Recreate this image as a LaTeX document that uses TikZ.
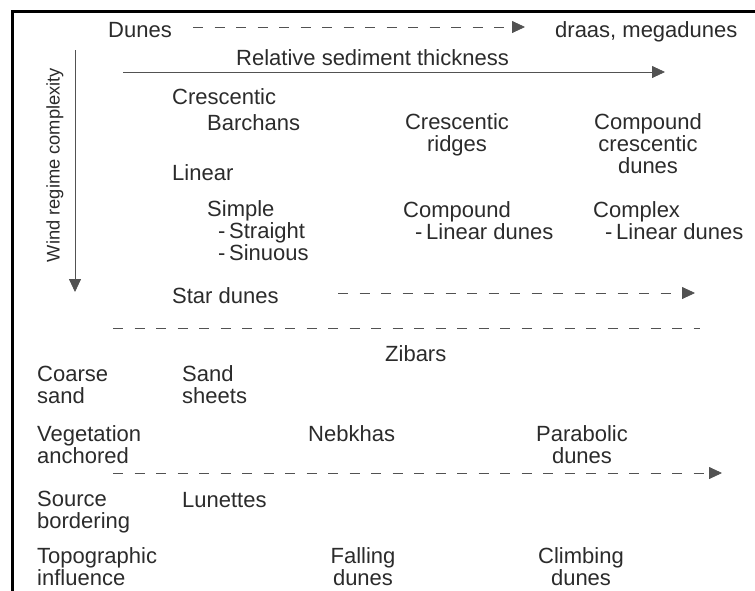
\documentclass[tikz,border=0pt]{standalone}
\usepackage{fontspec}
\setmainfont{Liberation Sans}
\usetikzlibrary{arrows.meta}
\usetikzlibrary{positioning}

\definecolor{inkgray}{gray}{0.17}
\definecolor{linegray}{gray}{0.32}

\tikzset{
  lbl/.style={font=\fontsize{22}{22}\selectfont, text=inkgray, inner sep=0pt, anchor=base west, align=left},
  clbl/.style={lbl, anchor=base, align=center},
  axisarrow/.style={draw=linegray, line width=0.8pt, -{Triangle[length=13pt,width=12pt]}},
  dasharrow/.style={axisarrow, dash pattern=on 10pt off 11.5pt},
  dashline/.style={draw=linegray, line width=0.8pt, dash pattern=on 10pt off 11.5pt},
}

\begin{document}
\begin{tikzpicture}[x=1pt,y=-1pt]
\useasboundingbox (0,0) rectangle (755,590);
\draw[line width=3pt] (12.8,592) -- (12.8,11) -- (757,11);

% dunes to draas
\node[lbl] (dunes) at (108,37) {Dunes};
\node[lbl] (draas) at (555,37) {draas, megadunes};
\coordinate (dunesA) at (193,27);
\coordinate (dunesB) at (525,27);
\draw[dasharrow] (dunesA) -- (dunesB);

% axes
\node[lbl] (thick) at (236,65) {Relative sediment thickness};
\coordinate (thickA) at (123,72);
\coordinate (thickB) at (665,72);
\draw[axisarrow] (thickA) -- (thickB);
\node[font=\fontsize{18.3}{20}\selectfont, text=inkgray, inner sep=0pt, rotate=90] (wind) at (55,165) {Wind regime complexity};
\coordinate (windA) at (75,50);
\coordinate (windB) at (75,292);
\draw[axisarrow] (windA) -- (windB);

% crescentic (multi-line nodes sit on their last line)
\node[lbl] (cresc) at (172,104) {Crescentic};
\node[lbl] (barch) at (207,130) {Barchans};
\node[clbl] (ridges) at (457,151) {Crescentic\\ridges};
\node[clbl] (compcr) at (648,173) {Compound\\crescentic\\dunes};

% linear
\node[lbl] (linear) at (172,180) {Linear};
\node[lbl] (simple) at (207,260) {Simple\\\hspace*{11pt}-\,Straight\\\hspace*{11pt}-\,Sinuous};
\node[lbl] (complin) at (403,239) {Compound\\\hspace*{12pt}-\,Linear dunes};
\node[lbl] (cplxlin) at (593,239) {Complex\\\hspace*{12pt}-\,Linear dunes};

% star
\node[lbl] (star) at (172,303) {Star dunes};
\coordinate (starA) at (338,293);
\coordinate (starB) at (695,293);
\draw[dasharrow] (starA) -- (starB);
\coordinate (sepA) at (113,328);
\coordinate (sepB) at (700,328);
\draw[dashline] (sepA) -- (sepB);

% lower part
\node[lbl] (zibars) at (385,361) {Zibars};
\node[lbl] (coarse) at (37,403) {Coarse\\sand};
\node[lbl] (sheets) at (182,403) {Sand\\sheets};
\node[lbl] (veget) at (37,463) {Vegetation\\anchored};
\node[lbl] (nebkha) at (308,441) {Nebkhas};
\node[clbl] (parab) at (582,463) {Parabolic\\dunes};
\coordinate (vegA) at (113,473);
\coordinate (vegB) at (722,473);
\draw[dasharrow] (vegA) -- (vegB);
\node[lbl] (source) at (37,528) {Source\\bordering};
\node[lbl] (lunet) at (182,507) {Lunettes};
\node[lbl] (topo) at (37,585) {Topographic\\influence};
\node[clbl] (fall) at (363,585) {Falling\\dunes};
\node[clbl] (climb) at (581,585) {Climbing\\dunes};

\end{tikzpicture}
\end{document}
